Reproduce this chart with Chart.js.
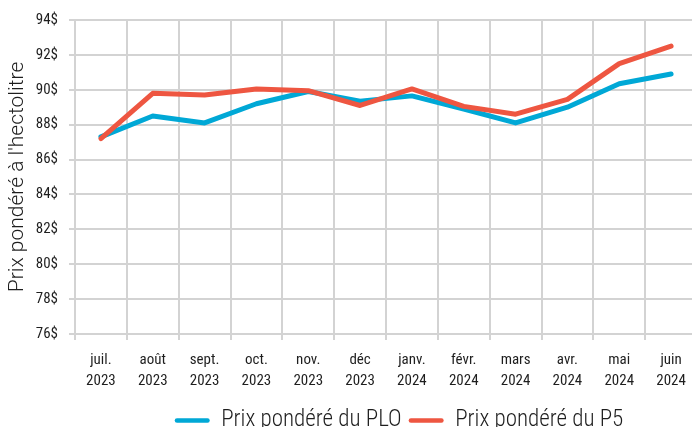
<!DOCTYPE html>
<html>
<head>
<meta charset="utf-8">
<script src="https://cdn.jsdelivr.net/npm/chart.js@4"></script>
<style>
html,body{margin:0;padding:0;background:#fff;overflow:hidden;width:692px;height:427px;}
#wrap{position:absolute;left:0;top:0;width:798px;height:442px;}
</style>
</head>
<body>
<div id="wrap"><canvas id="c"></canvas></div>
<script>
const months = ['juil.','août','sept.','oct.','nov.','déc','janv.','févr.','mars','avr.','mai','juin'];
const years = ['2023','2023','2023','2023','2023','2023','2024','2024','2024','2024','2024','2024'];
const plo = [87.3, 88.5, 88.1, 89.2, 89.9, 89.35, 89.65, 88.9, 88.1, 89.0, 90.35, 90.9];
const p5  = [87.2, 89.8, 89.7, 90.05, 89.95, 89.1, 90.05, 89.05, 88.6, 89.45, 91.5, 92.5];
const yMin = 76, yMax = 94, yStep = 2;
const seriesNames = ['Prix pondéré du PLO', 'Prix pondéré du P5'];
const yTitle = "Prix pondéré à l'hectolitre";

const COND = "'Roboto Condensed', Roboto, sans-serif";
const REG = "Roboto, sans-serif";
const GRID = '#d3d3d3';
const TXT = '#1e1e1e';
const labels = months.map((m, i) => [m, years[i]]);
const baseGen = Chart.defaults.plugins.legend.labels.generateLabels;

new Chart(document.getElementById('c'), {
  type: 'line',
  data: {
    labels: labels,
    datasets: [
      { label: seriesNames[0], data: plo, borderColor: '#00a8d6', backgroundColor: '#00a8d6',
        borderWidth: 5, pointRadius: 0, tension: 0, borderCapStyle: 'round', borderJoinStyle: 'round', order: 1 },
      { label: seriesNames[1], data: p5, borderColor: '#ee5641', backgroundColor: '#ee5641',
        borderWidth: 5, pointRadius: 0, tension: 0, borderCapStyle: 'round', borderJoinStyle: 'round', order: 0 }
    ]
  },
  options: {
    responsive: true,
    maintainAspectRatio: false,
    animation: false,
    layout: { padding: { top: 10, left: 0, right: 0, bottom: 0 } },
    plugins: {
      tooltip: { enabled: false },
      legend: {
        position: 'bottom',
        labels: {
          generateLabels: chart => baseGen(chart).map(l => Object.assign(l, { lineWidth: 0, strokeStyle: 'rgba(0,0,0,0)' })),
          sort: (a, b) => a.datasetIndex - b.datasetIndex,
          boxWidth: 35, boxHeight: 4.5, useBorderRadius: true, borderRadius: 2.25,
          padding: 7,
          color: TXT,
          font: { family: COND, size: 23, weight: 300 }
        }
      }
    },
    scales: {
      x: {
        offset: true,
        grid: { offset: true, color: GRID, lineWidth: 2, tickLength: 6, drawTicks: true },
        border: { color: GRID, width: 2 },
        ticks: { color: TXT, font: { family: COND, size: 15, lineHeight: 1.4 }, maxRotation: 0, autoSkip: false, padding: 10 }
      },
      y: {
        min: yMin, max: yMax,
        afterFit: s => { s.width = 75; },
        grid: { color: GRID, lineWidth: 2, tickLength: 6 },
        border: { color: GRID, width: 2 },
        ticks: { stepSize: yStep, color: TXT, font: { family: COND, size: 15 }, padding: 11,
                 callback: v => v + '$' },
        title: { display: true, text: yTitle, color: TXT, font: { family: REG, size: 21, weight: 300 }, padding: { top: 5, bottom: 0 } }
      },
      y2: {
        position: 'right',
        display: true,
        afterFit: s => { s.width = 101; },
        grid: { display: false },
        border: { display: false },
        ticks: { display: false }
      }
    }
  }
});
</script>
</body>
</html>
